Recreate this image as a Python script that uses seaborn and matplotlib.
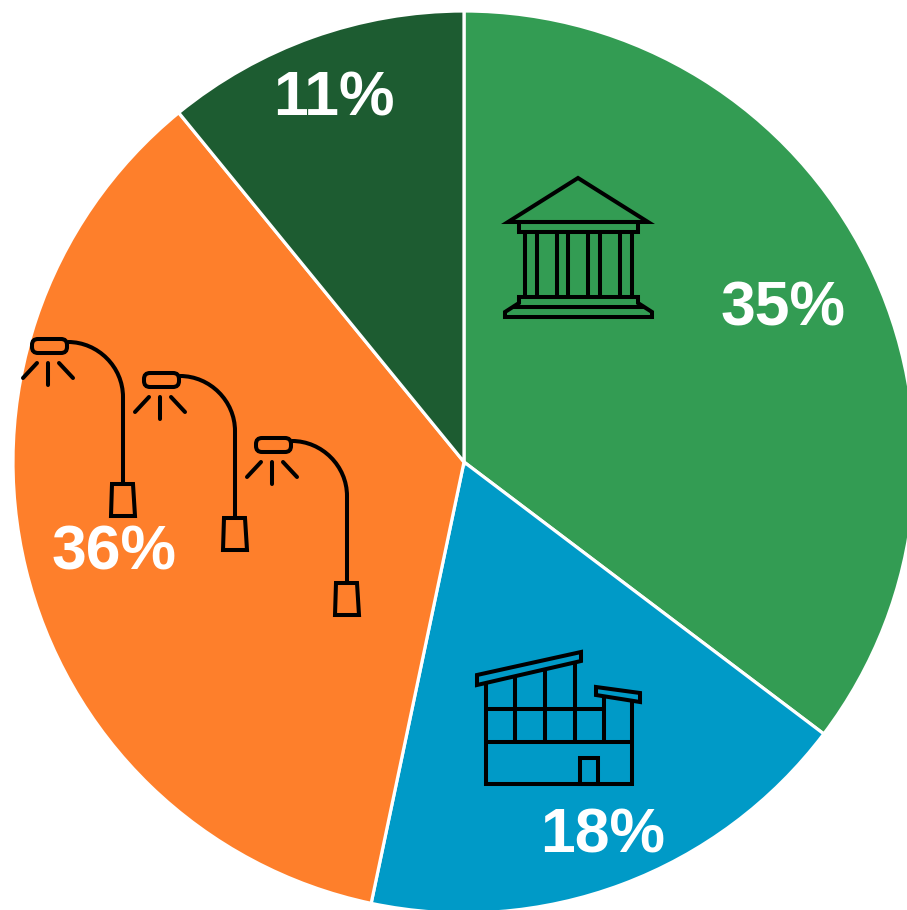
# plot.py

import matplotlib.pyplot as plt
import seaborn as sns
from matplotlib.patches import FancyBboxPatch, PathPatch, Polygon
from matplotlib.path import Path

# --- Datos ---
categorias = ["edificios publicos", "industria", "alumbrado", "otros"]
valores = [35.3, 18.0, 35.8, 10.9]
colores = ["#339C53", "#009AC7", "#FE7F2B", "#1D5C31"]

# --- Tema ---
sns.set_theme(style="white")
plt.rcParams["font.family"] = ["Liberation Sans", "DejaVu Sans"]
paleta = sns.color_palette(colores)

ALTO = 910
LW_ICONO = 2.9


def py(y):
    # posiciones medidas desde arriba, como en la imagen
    return ALTO - y


def linea(ax, x0, y0, x1, y1, cap="butt"):
    ax.plot([x0, x1], [py(y0), py(y1)], color="black", lw=LW_ICONO, solid_capstyle=cap)


def poligono(ax, puntos):
    puntos = [(x, py(y)) for x, y in puntos]
    ax.add_patch(Polygon(puntos, closed=True, fill=False, edgecolor="black", lw=LW_ICONO, joinstyle="miter"))


def icono_banco(ax):
    poligono(ax, [(578, 178), (648, 222), (508, 222)])
    poligono(ax, [(519, 222), (638, 222), (638, 232), (519, 232)])
    for x in [525, 537, 557, 568, 588, 600, 620, 632]:
        linea(ax, x, 232, x, 297)
    poligono(ax, [(519, 297), (638, 297), (638, 303), (652, 312), (652, 317), (505, 317), (505, 312), (519, 303)])
    linea(ax, 512, 307, 645, 307)


def icono_fabrica(ax):
    poligono(ax, [(477, 675), (581, 652), (581, 661), (477, 685)])
    poligono(ax, [(596, 687), (640, 693), (640, 702), (596, 695)])
    linea(ax, 486, 683, 486, 786)
    linea(ax, 632, 700, 632, 786)
    linea(ax, 484, 784, 634, 784)
    linea(ax, 486, 709, 604, 709)
    linea(ax, 486, 742, 632, 742)
    linea(ax, 515, 677, 515, 742)
    linea(ax, 545, 671, 545, 742)
    linea(ax, 575, 662, 575, 742)
    linea(ax, 604, 697, 604, 742)
    poligono(ax, [(580, 784), (580, 758), (598, 758), (598, 784)])


def icono_farol(ax, dx, dy):
    cabeza = FancyBboxPatch(
        (32 + dx, py(353 + dy)), 35, 14, boxstyle="round,pad=0,rounding_size=6",
        fill=False, edgecolor="black", lw=LW_ICONO,
    )
    ax.add_patch(cabeza)
    linea(ax, 37 + dx, 363 + dy, 23 + dx, 378 + dy, cap="round")
    linea(ax, 48 + dx, 363 + dy, 48 + dx, 385 + dy, cap="round")
    linea(ax, 59 + dx, 363 + dy, 73 + dx, 378 + dy, cap="round")
    brazo = Path(
        [(68 + dx, py(342 + dy)), (98 + dx, py(342 + dy)), (123 + dx, py(367 + dy)),
         (123 + dx, py(397 + dy)), (123 + dx, py(484 + dy))],
        [Path.MOVETO, Path.CURVE4, Path.CURVE4, Path.CURVE4, Path.LINETO],
    )
    ax.add_patch(PathPatch(brazo, fill=False, edgecolor="black", lw=LW_ICONO))
    poligono(ax, [(112 + dx, 484 + dy), (133 + dx, 484 + dy), (135 + dx, 516 + dy), (111 + dx, 516 + dy)])


# --- Visualización ---
fig = plt.figure(figsize=(9.07, 9.10), dpi=100)
ax = fig.add_axes([0, 0, 1, 1])

sectores, _, textos = ax.pie(
    valores,
    colors=paleta,
    center=(464, py(462)),
    radius=451,
    startangle=90,
    counterclock=False,
    autopct="%.0f%%",
    wedgeprops={"edgecolor": "white", "linewidth": 2.3},
    textprops={"color": "white", "fontsize": 45, "fontweight": "bold"},
)

# --- Etiquetas en su sitio ---
posiciones = [(783, 309), (603, 836), (114, 553), (334, 99)]
for texto, (x, y) in zip(textos, posiciones):
    texto.set_position((x, py(y)))

icono_banco(ax)
icono_fabrica(ax)
icono_farol(ax, 0, 0)
icono_farol(ax, 112, 34)
icono_farol(ax, 224, 99)

ax.set_xlim(0, 907)
ax.set_ylim(0, ALTO)
ax.set_aspect("equal")
ax.axis("off")

# --- Guardar gráfico ---
fig.savefig("out.png", dpi=100)
